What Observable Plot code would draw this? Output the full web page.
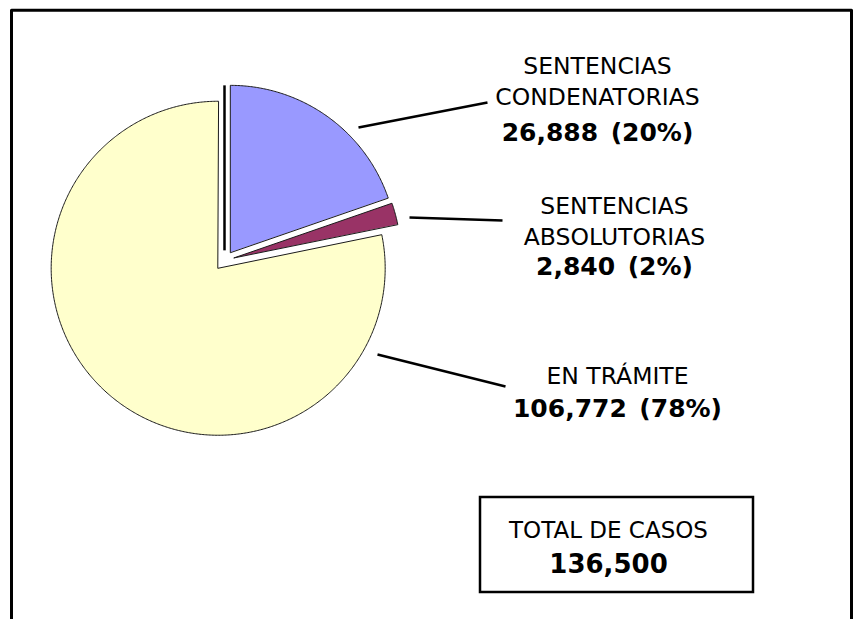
<!DOCTYPE html>
<html><head><meta charset="utf-8">
<script src="https://cdn.jsdelivr.net/npm/d3@7"></script>
<script src="https://cdn.jsdelivr.net/npm/@observablehq/plot@0.6"></script>
<style>body{margin:0;background:#fff} svg{display:block}</style>
</head><body><div id="chart"></div>
<script>
// ---- data ----
const categories = ["SENTENCIAS CONDENATORIAS", "SENTENCIAS ABSOLUTORIAS", "EN TRÁMITE"];
const labelLines = ["SENTENCIAS\nCONDENATORIAS", "SENTENCIAS\nABSOLUTORIAS", "EN TRÁMITE"];
const values = [26888, 2840, 106772];
const colors = ["#9999FF", "#993366", "#FFFFCC"];
const totalLabel = "TOTAL DE CASOS";

// ---- layout ----
const W = 853, H = 619;
const FONT = "DejaVu Sans";
const pie = {cx: 224, cy: 260, r: 167, explode: 10};
const labelLayout = [
  {x: 597, textY: 104, valueY: 140, x1: 358, y1: 127, x2: 487, y2: 102},
  {x: 614, textY: 244, valueY: 274, x1: 409, y1: 217, x2: 502, y2: 220},
  {x: 617, textY: 383, valueY: 416, x1: 377, y1: 354, x2: 505, y2: 386}
];
const boxLayout = {x1: 480, x2: 753, y1: 497, y2: 592, tx: 608, textY: 537, valueY: 572};
const frameLayout = {left: 11, right: 851, top: 9.7};

// ---- derived ----
const total = d3.sum(values);
const fmt = d3.format(",");
const arcs = d3.pie().sort(null).value(d => d)(values);
const slicePts = [];
const centers = [];
arcs.forEach((a, i) => {
  const mid = (a.startAngle + a.endAngle) / 2;
  const ox = pie.cx + pie.explode * Math.sin(mid);
  const oy = pie.cy - pie.explode * Math.cos(mid);
  centers.push({x: ox, y: oy});
  slicePts.push({cat: categories[i], x: ox, y: oy});
  const n = Math.max(2, Math.ceil((a.endAngle - a.startAngle) / (Math.PI / 360)));
  for (let k = 0; k <= n; k++) {
    const t = a.startAngle + (a.endAngle - a.startAngle) * k / n;
    slicePts.push({cat: categories[i], x: ox + pie.r * Math.sin(t), y: oy - pie.r * Math.cos(t)});
  }
});

const labels = categories.map((c, i) => ({
  ...labelLayout[i],
  text: labelLines[i],
  value: `${fmt(values[i])}\u2002(${Math.round(values[i] / total * 100)}%)`
}));

const frame = [
  {x: frameLayout.left, y: H + 10},
  {x: frameLayout.left, y: frameLayout.top},
  {x: frameLayout.right, y: frameLayout.top},
  {x: frameLayout.right, y: H + 10}
];

const edge = [{x1: pie.cx, y1: centers[0].y - pie.r, x2: pie.cx, y2: centers[0].y - 2}];
const box = [{...boxLayout, t: totalLabel, v: fmt(total)}];

const chart = Plot.plot({
  width: W, height: H,
  margin: 0,
  x: {domain: [0, W], range: [0, W], axis: null},
  y: {domain: [0, H], range: [0, H], axis: null},
  color: {type: "ordinal", domain: categories, range: colors},
  style: {fontFamily: FONT, background: "#fff", overflow: "hidden"},
  marks: [
    Plot.line(frame, {x: "x", y: "y", stroke: "black", strokeWidth: 3}),
    Plot.line(slicePts, {x: "x", y: "y", z: "cat", fill: "cat", stroke: "#1a1a1a", strokeWidth: 1, curve: "linear-closed"}),
    Plot.link(edge, {x1: "x1", y1: "y1", x2: "x2", y2: "y2", stroke: "black", strokeWidth: 2.5}),
    Plot.link(labels, {x1: "x1", y1: "y1", x2: "x2", y2: "y2", stroke: "black", strokeWidth: 2.5}),
    Plot.text(labels, {x: "x", y: "textY", text: "text", textAnchor: "middle", lineAnchor: "bottom", lineHeight: 1.28, fontSize: 23.5, fill: "black", fontFamily: FONT}),
    Plot.text(labels, {x: "x", y: "valueY", text: "value", textAnchor: "middle", lineAnchor: "bottom", fontSize: 25, fontWeight: "bold", fill: "black", fontFamily: FONT}),
    Plot.rect(box, {x1: "x1", x2: "x2", y1: "y1", y2: "y2", fill: "white", stroke: "black", strokeWidth: 2.5}),
    Plot.text(box, {x: "tx", y: "textY", text: "t", textAnchor: "middle", lineAnchor: "bottom", fontSize: 23, fill: "black", fontFamily: FONT}),
    Plot.text(box, {x: "tx", y: "valueY", text: "v", textAnchor: "middle", lineAnchor: "bottom", fontSize: 26, fontWeight: "bold", fill: "black", fontFamily: FONT})
  ]
});
document.getElementById("chart").appendChild(chart);
</script>
</body></html>
